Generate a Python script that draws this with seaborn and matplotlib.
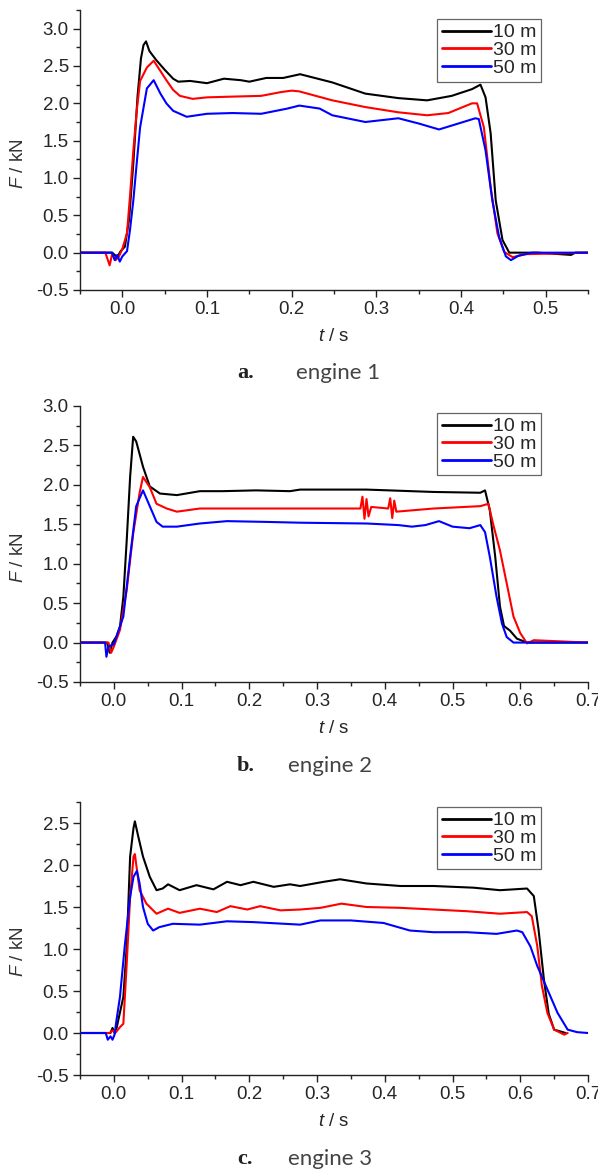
import numpy as np
import pandas as pd
import matplotlib
matplotlib.use("Agg")
import matplotlib.pyplot as plt
from matplotlib.ticker import MultipleLocator
import seaborn as sns

# data (t in s, F in kN)
labels = ["10 m", "30 m", "50 m"]
colors = ["#000000", "#ff0000", "#0000ff"]

# engine 1
a_t10 = [-0.05, -0.012, -0.006, -0.002, 0.003, 0.008, 0.013, 0.018, 0.022, 0.025, 0.028, 0.032, 0.04, 0.05, 0.06, 0.066, 0.08, 0.1, 0.12, 0.14, 0.15, 0.17, 0.19, 0.21, 0.248, 0.287, 0.326, 0.36, 0.389, 0.413, 0.423, 0.429, 0.435, 0.441, 0.449, 0.457, 0.49, 0.53, 0.535, 0.55]
a_f10 = [0, 0, -0.06, 0.02, 0.08, 0.45, 1.2, 2.1, 2.6, 2.78, 2.83, 2.7, 2.58, 2.45, 2.33, 2.29, 2.30, 2.27, 2.33, 2.31, 2.29, 2.34, 2.34, 2.39, 2.28, 2.13, 2.07, 2.04, 2.10, 2.19, 2.25, 2.08, 1.6, 0.7, 0.17, 0.0, 0.0, -0.03, 0.0, 0.0]
a_t30 = [-0.05, -0.02, -0.015, -0.012, -0.008, -0.004, 0.0, 0.0055, 0.009, 0.013, 0.017, 0.021, 0.029, 0.037, 0.044, 0.052, 0.06, 0.068, 0.083, 0.1, 0.13, 0.164, 0.187, 0.2, 0.209, 0.248, 0.287, 0.326, 0.36, 0.385, 0.413, 0.419, 0.427, 0.435, 0.443, 0.451, 0.461, 0.477, 0.55]
a_f30 = [0, 0, -0.17, -0.02, -0.1, -0.05, 0.05, 0.26, 0.75, 1.37, 1.9, 2.3, 2.48, 2.57, 2.45, 2.31, 2.18, 2.1, 2.06, 2.08, 2.09, 2.1, 2.15, 2.17, 2.16, 2.04, 1.95, 1.88, 1.84, 1.87, 2.0, 2.0, 1.68, 0.88, 0.26, 0.01, -0.06, -0.02, 0.0]
a_t50 = [-0.05, -0.012, -0.009, -0.006, -0.003, 0.0, 0.0055, 0.009, 0.013, 0.017, 0.021, 0.029, 0.037, 0.045, 0.052, 0.06, 0.076, 0.1, 0.13, 0.164, 0.195, 0.209, 0.233, 0.248, 0.287, 0.326, 0.35, 0.374, 0.397, 0.417, 0.421, 0.429, 0.437, 0.445, 0.453, 0.459, 0.468, 0.484, 0.55]
a_f50 = [0, 0, -0.1, -0.03, -0.12, -0.05, 0.02, 0.3, 0.7, 1.2, 1.68, 2.2, 2.31, 2.13, 2.0, 1.9, 1.82, 1.86, 1.87, 1.86, 1.93, 1.97, 1.93, 1.84, 1.75, 1.80, 1.73, 1.65, 1.73, 1.80, 1.79, 1.37, 0.7, 0.21, -0.05, -0.1, -0.04, 0.0, 0.0]

# engine 2
b_t10 = [-0.05, -0.01, -0.006, -0.002, 0.004, 0.009, 0.014, 0.019, 0.024, 0.0285, 0.033, 0.043, 0.053, 0.068, 0.093, 0.127, 0.16, 0.21, 0.26, 0.275, 0.373, 0.472, 0.541, 0.548, 0.555, 0.563, 0.57, 0.576, 0.585, 0.595, 0.61, 0.7]
b_f10 = [0, 0, -0.13, 0.0, 0.08, 0.2, 0.58, 1.3, 2.1, 2.61, 2.55, 2.23, 1.98, 1.89, 1.87, 1.92, 1.92, 1.93, 1.92, 1.94, 1.94, 1.91, 1.90, 1.93, 1.68, 1.09, 0.46, 0.21, 0.15, 0.05, 0.0, 0.0]
b_t30 = [-0.05, -0.008, -0.004, 0.0, 0.009, 0.019, 0.0285, 0.038, 0.043, 0.053, 0.063, 0.078, 0.093, 0.127, 0.176, 0.275, 0.364, 0.367, 0.37, 0.373, 0.376, 0.38, 0.405, 0.408, 0.411, 0.414, 0.417, 0.472, 0.541, 0.553, 0.56, 0.57, 0.58, 0.59, 0.6, 0.61, 0.62, 0.7]
b_f30 = [0, 0, -0.13, -0.05, 0.16, 0.67, 1.38, 1.9, 2.1, 1.97, 1.76, 1.70, 1.66, 1.70, 1.70, 1.70, 1.70, 1.85, 1.57, 1.82, 1.60, 1.72, 1.70, 1.83, 1.58, 1.80, 1.66, 1.70, 1.73, 1.76, 1.5, 1.17, 0.75, 0.33, 0.12, -0.01, 0.03, 0.0]
b_t50 = [-0.05, -0.013, -0.011, -0.008, 0.0, 0.004, 0.014, 0.024, 0.033, 0.043, 0.053, 0.063, 0.072, 0.093, 0.127, 0.167, 0.226, 0.275, 0.373, 0.42, 0.44, 0.46, 0.48, 0.5, 0.525, 0.541, 0.548, 0.555, 0.565, 0.573, 0.58, 0.59, 0.7]
b_f50 = [0, 0, -0.18, -0.05, -0.02, 0.08, 0.33, 1.09, 1.73, 1.93, 1.73, 1.53, 1.47, 1.47, 1.51, 1.54, 1.53, 1.52, 1.51, 1.49, 1.47, 1.49, 1.54, 1.47, 1.45, 1.49, 1.40, 1.09, 0.58, 0.24, 0.07, 0.0, 0.0]

# engine 3
c_t10 = [-0.05, -0.005, -0.002, 0.001, 0.004, 0.014, 0.019, 0.024, 0.029, 0.031, 0.036, 0.043, 0.053, 0.063, 0.072, 0.08, 0.097, 0.122, 0.147, 0.167, 0.187, 0.206, 0.236, 0.26, 0.275, 0.31, 0.334, 0.373, 0.423, 0.472, 0.531, 0.57, 0.61, 0.62, 0.627, 0.635, 0.642, 0.65, 0.667]
c_f10 = [0, 0, 0.06, 0.0, 0.06, 0.43, 1.03, 2.10, 2.44, 2.52, 2.34, 2.10, 1.86, 1.70, 1.72, 1.77, 1.70, 1.76, 1.71, 1.80, 1.76, 1.80, 1.74, 1.77, 1.75, 1.80, 1.83, 1.78, 1.75, 1.75, 1.73, 1.70, 1.72, 1.63, 1.23, 0.63, 0.23, 0.04, 0.0]
c_t30 = [-0.05, -0.006, -0.002, 0.002, 0.009, 0.014, 0.019, 0.024, 0.029, 0.031, 0.038, 0.048, 0.063, 0.08, 0.097, 0.127, 0.152, 0.172, 0.197, 0.216, 0.246, 0.275, 0.305, 0.336, 0.373, 0.423, 0.472, 0.521, 0.57, 0.61, 0.617, 0.625, 0.632, 0.64, 0.65, 0.665, 0.67]
c_f30 = [0, 0, 0.03, 0.0, 0.07, 0.11, 0.83, 1.62, 2.10, 2.13, 1.70, 1.54, 1.42, 1.48, 1.43, 1.48, 1.44, 1.51, 1.47, 1.51, 1.46, 1.47, 1.49, 1.54, 1.50, 1.49, 1.47, 1.45, 1.42, 1.44, 1.39, 1.04, 0.56, 0.24, 0.04, -0.02, 0.0]
c_t50 = [-0.05, -0.012, -0.009, -0.005, -0.002, 0.001, 0.004, 0.009, 0.016, 0.024, 0.029, 0.034, 0.038, 0.043, 0.05, 0.058, 0.067, 0.087, 0.127, 0.167, 0.206, 0.275, 0.305, 0.35, 0.398, 0.437, 0.472, 0.521, 0.565, 0.595, 0.603, 0.615, 0.625, 0.64, 0.655, 0.67, 0.684, 0.7]
c_f50 = [0, 0, -0.08, -0.04, -0.08, -0.02, 0.16, 0.43, 1.03, 1.62, 1.86, 1.93, 1.78, 1.50, 1.30, 1.22, 1.26, 1.30, 1.29, 1.33, 1.32, 1.29, 1.34, 1.34, 1.31, 1.22, 1.20, 1.20, 1.18, 1.22, 1.20, 1.03, 0.80, 0.52, 0.24, 0.04, 0.01, 0.0]

panels = [
    ([(a_t10, a_f10), (a_t30, a_f30), (a_t50, a_f50)], (-0.05, 0.55), (-0.5, 3.25), "a.", "engine 1"),
    ([(b_t10, b_f10), (b_t30, b_f30), (b_t50, b_f50)], (-0.05, 0.70), (-0.5, 3.0), "b.", "engine 2"),
    ([(c_t10, c_f10), (c_t30, c_f30), (c_t50, c_f50)], (-0.05, 0.70), (-0.5, 2.75), "c.", "engine 3"),
]

# axes boxes in pixels (left, top, right, bottom) and legend tops
W, H = 598, 1172
boxes = [(80, 10, 588, 290), (80, 406, 588, 682), (80, 802, 588, 1075)]
leg_top = [0.968, 0.975, 0.982]
cap_y = [373, 766, 1159]
cap_x = [296, 288, 288]

sns.set_style("ticks")
plt.rcParams["font.family"] = ["Liberation Sans", "DejaVu Sans"]
plt.rcParams["mathtext.fontset"] = "custom"
plt.rcParams["mathtext.it"] = "Liberation Sans:italic"
plt.rcParams["mathtext.rm"] = "Liberation Sans"

fig = plt.figure(figsize=(W / 100, H / 100), dpi=100)

for i, (series, xlim, ylim, tag, name) in enumerate(panels):
    l, t, r, b = boxes[i]
    ax = fig.add_axes([l / W, 1 - b / H, (r - l) / W, (b - t) / H])
    for (tt, ff), lab, col in zip(series, labels, colors):
        df = pd.DataFrame({"t": tt, "F": ff})
        sns.lineplot(data=df, x="t", y="F", ax=ax, color=col, label=lab,
                     linewidth=1.5, estimator=None, sort=False)
    ax.set_xlim(*xlim)
    ax.set_ylim(*ylim)
    ax.xaxis.set_major_locator(MultipleLocator(0.1))
    ax.xaxis.set_minor_locator(MultipleLocator(0.05))
    ax.yaxis.set_major_locator(MultipleLocator(0.5))
    ax.yaxis.set_minor_locator(MultipleLocator(0.25))
    ax.xaxis.set_major_formatter(plt.FuncFormatter(lambda v, p: f"{v:.1f}"))
    ax.yaxis.set_major_formatter(plt.FuncFormatter(lambda v, p: f"{v:.1f}"))
    ax.tick_params(which="major", length=5, width=1, labelsize=13.5, pad=3, color="#222222")
    ax.tick_params(which="minor", length=3, width=1, color="#222222")
    for s in ["left", "bottom"]:
        ax.spines[s].set_linewidth(1)
        ax.spines[s].set_color("#222222")
    sns.despine(ax=ax)
    ax.set_xlabel("$t$ / s", fontsize=13.5, labelpad=7)
    ax.set_ylabel("$F$ / kN", fontsize=13.5, color="#333333")
    ax.yaxis.set_label_coords(-0.104, 0.45)
    leg = ax.legend(loc="upper right", bbox_to_anchor=(0.907, leg_top[i]), borderaxespad=0,
                    fontsize=14, handlelength=2.5, handletextpad=0.1, labelspacing=0.0,
                    borderpad=0.25, fancybox=False, framealpha=1, edgecolor="#666666")
    leg.get_frame().set_linewidth(0.9)
    for ln in leg.get_lines():
        ln.set_linewidth(2.0)

    fig.text(237 / W, 1 - cap_y[i] / H, tag, fontsize=16, fontweight="bold",
             family=["Liberation Serif"], ha="left", va="center", color="#222222")
    fig.text(cap_x[i] / W, 1 - cap_y[i] / H, name, fontsize=16, family=["Lato", "DejaVu Sans"],
             ha="left", va="center", color="#444444")

fig.savefig("out.png", dpi=100)
